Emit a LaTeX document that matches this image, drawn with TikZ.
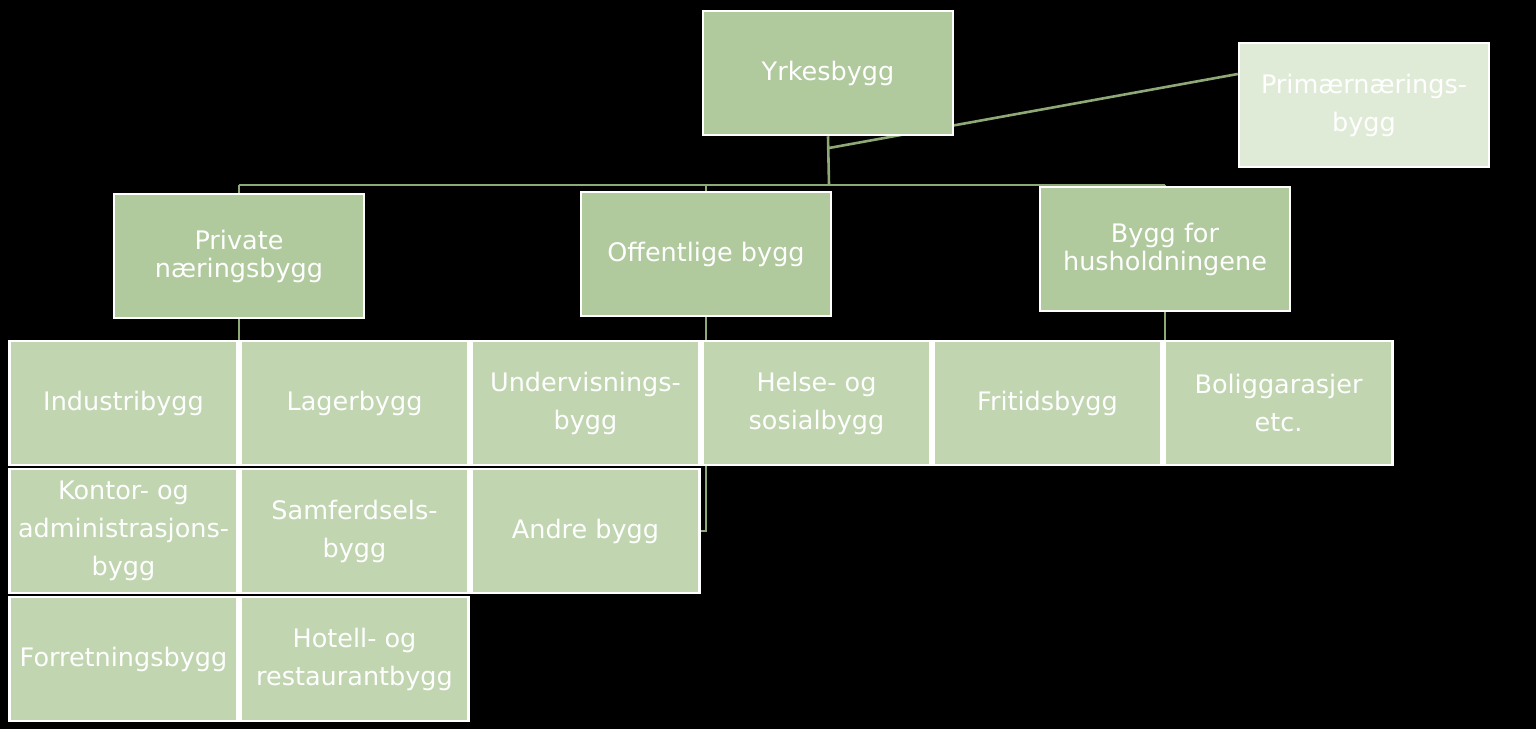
\documentclass[tikz,border=0pt]{standalone}
\usepackage{fontspec}
\setmainfont{DejaVu Sans}
\definecolor{parentgreen}{RGB}{176,201,157}
\definecolor{leafgreen}{RGB}{192,213,176}
\definecolor{primgreen}{RGB}{224,235,215}
\definecolor{conncolor}{RGB}{142,168,118}
\pgfdeclarelayer{bglayer}
\pgfdeclarelayer{connlayer}
\pgfsetlayers{bglayer,connlayer,main}
\begin{document}
\begin{tikzpicture}[x=1pt,y=-1pt,
  box/.style={draw=white, line width=2.5pt, minimum width=250pt, minimum height=124pt, align=center, text=white, inner sep=2pt},
  parent/.style={box, fill=parentgreen, font=\fontsize{25.5}{28}\selectfont},
  prim/.style={box, fill=primgreen, font=\fontsize{25.5}{38}\selectfont},
  leaf/.style={box, fill=leafgreen, minimum width=228pt, minimum height=124pt, font=\fontsize{25.5}{38}\selectfont},
  conn/.style={draw=conncolor, line width=2.6pt}]
\begin{pgfonlayer}{bglayer}
\fill[black] (0,0) rectangle (1536,729);
\end{pgfonlayer}
\useasboundingbox (0,0) rectangle (1536,729);

% nodes
\node[parent] (yrk) at (828,73) {Yrkesbygg};
\node[prim] (prim) at (1364,105) {Primærnærings-\\bygg};
\node[parent] (priv) at (239,256) {Private\\næringsbygg};
\node[parent] (off) at (706,254) {Offentlige bygg};
\node[parent] (bygg) at (1165,249) {Bygg for\\husholdningene};

\node[leaf] (ind) at (123.5,403) {Industribygg};
\node[leaf] (lag) at (354.5,403) {Lagerbygg};
\node[leaf] (und) at (585.5,403) {Undervisnings-\\bygg};
\node[leaf] (hel) at (816.5,403) {Helse- og\\sosialbygg};
\node[leaf] (fri) at (1047.5,403) {Fritidsbygg};
\node[leaf] (bol) at (1278.5,403) {Boliggarasjer\\etc.};
\node[leaf] (kon) at (123.5,531) {Kontor- og\\administrasjons-\\bygg};
\node[leaf] (sam) at (354.5,531) {Samferdsels-\\bygg};
\node[leaf] (and) at (585.5,531) {Andre bygg};
\node[leaf] (for) at (123.5,659) {Forretningsbygg};
\node[leaf] (hot) at (354.5,659) {Hotell- og\\restaurantbygg};

% connectors (drawn behind the boxes)
\begin{pgfonlayer}{connlayer}
\coordinate (hj) at (829,185);
\coordinate (pj) at (829,148);
\draw[conn] (yrk.south) -- (hj);
\draw[conn] (priv.north |- hj) -- (bygg.north |- hj);
\draw[conn] (priv.north |- hj) -- (priv.north);
\draw[conn] (off.north |- hj) -- (off.north);
\draw[conn] (bygg.north |- hj) -- (bygg.north);
\draw[conn] ([yshift=31pt]prim.west) -- (pj);
\draw[conn] (priv.south) -- (priv.south |- ind.north);
\draw[conn] (off.south) -- (off.south |- and.east) -- (and.east);
\draw[conn] (bygg.south) -- (bygg.south |- fri.north);
\end{pgfonlayer}
\end{tikzpicture}
\end{document}
